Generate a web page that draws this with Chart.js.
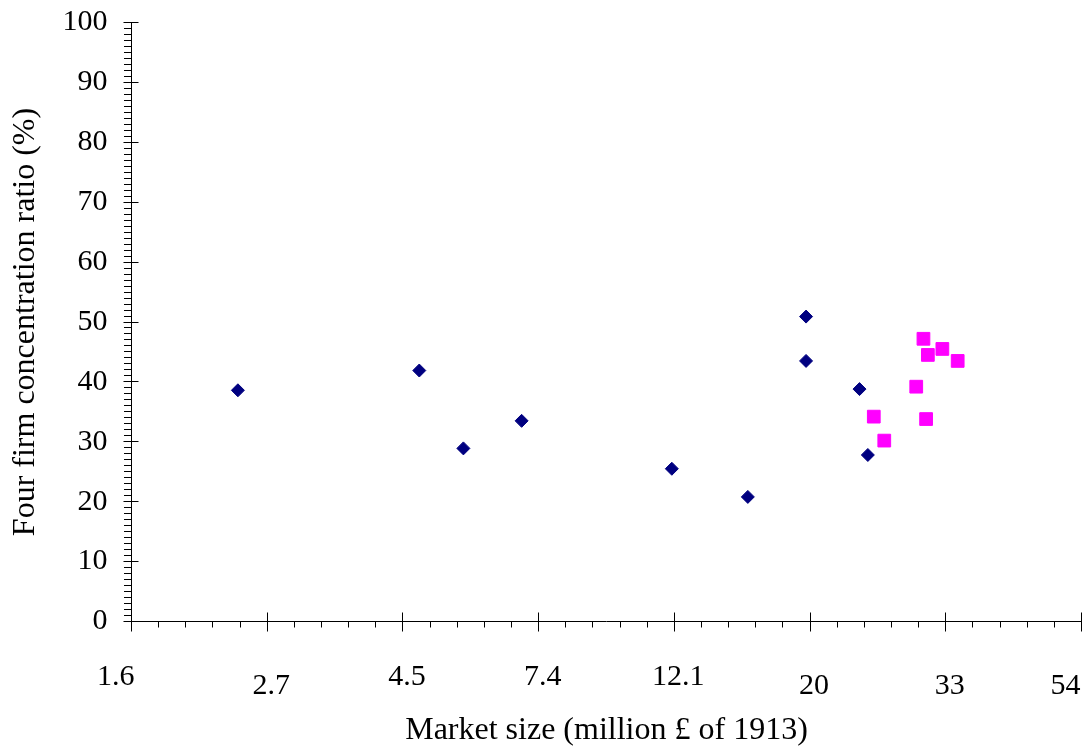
<!DOCTYPE html>
<html>
<head>
<meta charset="utf-8">
<script src="https://cdn.jsdelivr.net/npm/chart.js@4/dist/chart.umd.min.js"></script>
<style>
html,body{margin:0;padding:0;background:#ffffff;}
#wrap{width:1084px;height:747px;}
</style>
</head>
<body>
<div id="wrap"><canvas id="c" width="1084" height="747"></canvas></div>
<script>
// ---- data ----
const xTickLabels = ['1.6', '2.7', '4.5', '7.4', '12.1', '20', '33', '54'];
const yTickStep = 10;

// navy diamonds: market size (million £ of 1913) and four-firm ratio (%)
const navyMarket = [2.44, 4.76, 5.60, 6.94, 12.07, 15.97, 19.79, 19.79, 24.1, 24.85];
const navyRatio  = [38.6, 41.9, 28.9, 33.5, 25.5, 20.8, 50.9, 43.5, 38.8, 27.8];

// magenta squares
const pinkMarket = [30.5, 32.7, 31.0, 34.6, 29.7, 25.4, 30.8, 26.4];
const pinkRatio  = [47.2, 45.5, 44.5, 43.5, 39.2, 34.2, 33.8, 30.2];

const xTitle = 'Market size (million £ of 1913)';
const yTitle = 'Four firm concentration ratio (%)';

// axis structure: natural-log spaced ticks (e^0.5 ... e^4), minor every 0.1
const xTickPos = xTickLabels.map((_, i) => Math.exp(0.5 * (i + 1)));
const xMin = Math.exp(0.5), xMax = Math.exp(4);

const FONT = '"Liberation Serif", "Times New Roman", serif';

const tickPlugin = {
  id: 'excelTicks',
  afterDraw(chart) {
    const ctx = chart.ctx;
    const xs = chart.scales.x, ys = chart.scales.y;
    const a = chart.chartArea;
    ctx.save();
    ctx.strokeStyle = '#000';
    ctx.lineWidth = 1;
    // y-axis ticks
    for (let v = 0; v <= 100; v += 1) {
      const py = Math.round(ys.getPixelForValue(v) - 0.5) + 0.5;
      const major = v % yTickStep === 0;
      ctx.beginPath();
      ctx.moveTo(a.left - (major ? 8 : 7.5), py);
      ctx.lineTo(a.left + (major ? 7 : 0), py);
      ctx.stroke();
    }
    // x-axis ticks
    for (let k = 0; k <= 35; k++) {
      const px = Math.round(xs.getPixelForValue(Math.exp(0.5 + 0.1 * k)) - 0.5) + 0.5;
      const major = k % 5 === 0;
      ctx.beginPath();
      ctx.moveTo(px, a.bottom - (major ? 9 : 0));
      ctx.lineTo(px, a.bottom + (major ? 10 : 6));
      ctx.stroke();
    }
    // x tick labels (staggered like the original)
    ctx.fillStyle = '#000';
    ctx.font = '30px ' + FONT;
    ctx.textBaseline = 'middle';
    const lowRow = new Set([1, 5, 6, 7]);
    xTickLabels.forEach((lab, i) => {
      const px = xs.getPixelForValue(xTickPos[i]);
      const py = a.bottom + (lowRow.has(i) ? 64.5 : 55.5);
      if (i === 0) { ctx.textAlign = 'right'; ctx.fillText(lab, px + 3, py); }
      else if (i === xTickLabels.length - 1) { ctx.textAlign = 'right'; ctx.fillText(lab, px - 1, py); }
      else { ctx.textAlign = 'center'; ctx.fillText(lab, px + 4, py); }
    });
    ctx.restore();
  }
};

new Chart(document.getElementById('c'), {
  type: 'scatter',
  data: {
    datasets: [
      {
        label: 'navy',
        data: navyMarket.map((x, i) => ({x: x, y: navyRatio[i]})),
        pointStyle: 'rectRot',
        pointRadius: 6.5,
        pointHoverRadius: 6.5,
        backgroundColor: '#000080',
        borderColor: '#000080',
        borderWidth: 1
      },
      {
        label: 'magenta',
        data: pinkMarket.map((x, i) => ({x: x, y: pinkRatio[i]})),
        pointStyle: 'rect',
        pointRadius: 9,
        pointHoverRadius: 9,
        backgroundColor: '#FF00FF',
        borderColor: '#FF00FF',
        borderWidth: 1
      }
    ]
  },
  options: {
    responsive: false,
    animation: false,
    devicePixelRatio: 1,
    layout: {autoPadding: false, padding: {top: 22.5, right: 2.5, left: 0, bottom: 0}},
    plugins: {legend: {display: false}, tooltip: {enabled: false}},
    scales: {
      x: {
        type: 'logarithmic',
        min: xMin,
        max: xMax,
        afterBuildTicks: s => { s.ticks = xTickPos.map(v => ({value: v})); },
        afterFit: s => { s.height = 125.5; s.paddingLeft = 0; s.paddingRight = 0; },
        ticks: {display: false},
        grid: {display: false, drawTicks: false},
        border: {display: true, color: '#000', width: 1},
        title: {
          display: true,
          text: xTitle,
          color: '#000',
          font: {family: FONT, size: 32, lineHeight: 1},
          padding: {top: 0, bottom: 0}
        }
      },
      y: {
        type: 'linear',
        min: 0,
        max: 100,
        afterFit: s => { s.width = 131.5; s.paddingTop = 0; s.paddingBottom = 0; },
        ticks: {
          stepSize: yTickStep,
          color: '#000',
          padding: 24,
          font: {family: FONT, size: 30}
        },
        grid: {display: false, drawTicks: false},
        border: {display: true, color: '#000', width: 1},
        title: {
          display: true,
          text: yTitle,
          color: '#000',
          font: {family: FONT, size: 32, lineHeight: 1},
          padding: {top: 10, bottom: 0}
        }
      }
    }
  },
  plugins: [tickPlugin]
});
</script>
</body>
</html>
